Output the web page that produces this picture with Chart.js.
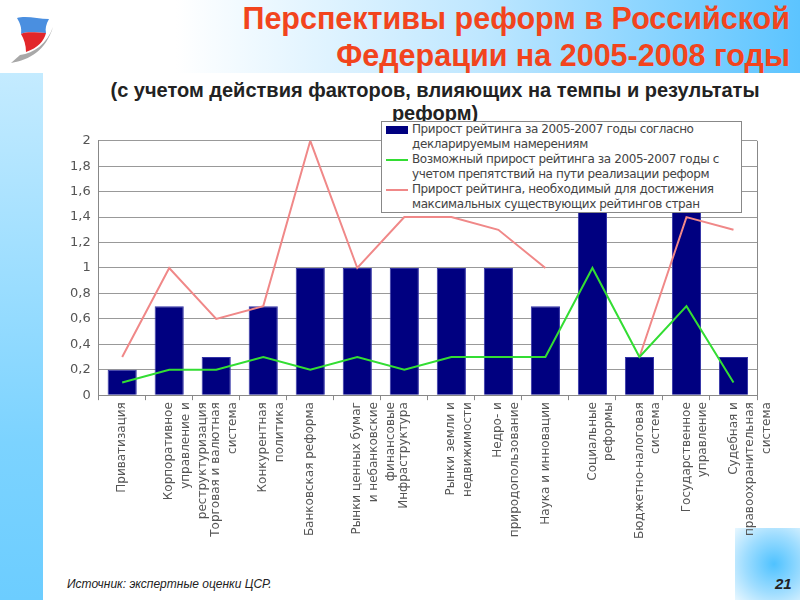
<!DOCTYPE html>
<html>
<head>
<meta charset="utf-8">
<script src="https://cdn.jsdelivr.net/npm/chart.js@4.4.1/dist/chart.umd.min.js"></script>
<style>
  html, body { margin: 0; padding: 0; }
  body { width: 800px; height: 600px; position: relative; overflow: hidden; background: #fff; font-family: 'Liberation Sans', Arial, sans-serif; }
  #topband { position: absolute; left: 0; top: 0; width: 800px; height: 73px; background: linear-gradient(to right, #fff 22%, #bfe7ff 60%, #5cc4ff 100%); }
  #leftband { position: absolute; left: 0; top: 73px; width: 43px; height: 527px; background: linear-gradient(to bottom, #c4ebff, #7cd3ff 70%, #6ccdff); }
  #glow { position: absolute; left: 735px; top: 528px; width: 65px; height: 72px; background: radial-gradient(circle at 60% 50%, #4fc2ff 0%, #9fddff 55%, #e8f7ff 100%); }
  #logo { position: absolute; left: 0; top: 0; }
  .title { position: absolute; right: 10px; top: 0; text-align: right; color: #f2441d; font-weight: bold; font-size: 30.5px; line-height: 37px; }
  .subtitle { position: absolute; left: 80px; width: 710px; top: 79px; text-align: center; color: #222; font-weight: bold; font-size: 20px; line-height: 23px; }
  #wrap { position: absolute; left: 50px; top: 125px; width: 736px; height: 416px; }
  #legend { position: absolute; left: 381px; top: 121px; width: 359px; height: 90px; background: #fff; border: 1px solid #888; font-family: 'DejaVu Sans', sans-serif; font-size: 12px; color: #444; line-height: 15px; letter-spacing: -0.4px; }
  .item { position: relative; padding-left: 30px; }
  .sw { position: absolute; left: 4px; top: 5px; width: 22px; }
  .foot { position: absolute; left: 67px; top: 577px; font-style: italic; font-size: 12px; color: #222; }
  .page { position: absolute; left: 775px; top: 575px; font-style: italic; font-weight: bold; font-size: 15px; color: #222; }
</style>
</head>
<body>
<div id="topband"></div>
<div id="leftband"></div>
<div id="glow"></div>
<svg id="logo" width="60" height="75" viewBox="0 0 60 75">
  <path d="M11 63 C30 60 46 50 53 27 C47 44 34 53 20 55 Z" fill="#a8a8a8"/>
  <path d="M17 18 C26 15 38 19 49 19 C46 24 45 29 46 33 C37 33 28 31 21 34 C22 28 20 23 17 18 Z" fill="#4a8fe0"/>
  <path d="M21 34 C28 31 37 33 46 33 C44 41 38 48 26 52 C26 45 24 39 21 34 Z" fill="#e2262a"/>
</svg>
<div class="title">Перспективы реформ в Российской<br>Федерации на 2005-2008 годы</div>
<div class="subtitle">(с учетом действия факторов, влияющих на темпы и результаты<br>реформ)</div>
<div id="wrap"><canvas id="myChart"></canvas></div>
<div id="legend">
  <div class="item"><div class="sw" style="height:8px;top:4px;background:#000080"></div>Прирост рейтинга за 2005-2007 годы согласно<br>декларируемым намерениям</div>
  <div class="item"><div class="sw" style="height:2px;top:7px;background:#33dd33"></div>Возможный прирост рейтинга за 2005-2007 годы с<br>учетом препятствий на пути реализации реформ</div>
  <div class="item"><div class="sw" style="height:2px;top:7px;background:#f08888"></div>Прирост рейтинга, необходимый для достижения<br>максимальных  существующих рейтингов стран</div>
</div>
<div class="foot">Источник: экспертные оценки ЦСР.</div>
<div class="page">21</div>
<script>
(() => {
  'use strict'

  const categories = [
    ['Приватизация'],
    ['Корпоративное', 'управление и', 'реструктуризация'],
    ['Торговая и валютная', 'система'],
    ['Конкурентная', 'политика'],
    ['Банковская реформа'],
    ['Рынки ценных бумаг', 'и небанковские', 'финансовые'],
    ['Инфраструктура'],
    ['Рынки земли и', 'недвижимости'],
    ['Недро- и', 'природопользование'],
    ['Наука и инновации'],
    ['Социальные', 'реформы'],
    ['Бюджетно-налоговая', 'система'],
    ['Государственное', 'управление'],
    ['Судебная и', 'правоохранительная', 'система']
  ]

  const declared = [0.2, 0.7, 0.3, 0.7, 1, 1, 1, 1, 1, 0.7, 1.5, 0.3, 1.5, 0.3]
  const possible = [0.1, 0.2, 0.2, 0.3, 0.2, 0.3, 0.2, 0.3, 0.3, 0.3, 1, 0.3, 0.7, 0.1]
  const needed = [0.3, 1, 0.6, 0.7, 2, 1, 1.4, 1.4, 1.3, 1, null, 0.3, 1.4, 1.3]

  const yTickLabels = ['0', '0,2', '0,4', '0,6', '0,8', '1', '1,2', '1,4', '1,6', '1,8', '2']

  // frame round the plot area
  const frame = {
    id: 'frame',
    beforeDatasetsDraw(chart) {
      const a = chart.chartArea
      const c = chart.ctx
      c.save()
      c.strokeStyle = '#888'
      c.lineWidth = 1
      c.beginPath()
      c.moveTo(Math.round(a.right) + 0.5, a.top)
      c.lineTo(Math.round(a.right) + 0.5, a.bottom)
      c.stroke()
      c.restore()
    }
  }

  const ctx = document.getElementById('myChart')

  new Chart(ctx, {
    type: 'bar',
    data: {
      labels: categories,
      datasets: [{
        type: 'line',
        data: possible,
        borderColor: '#33dd33',
        borderWidth: 2,
        pointRadius: 0,
        tension: 0,
        order: 1
      }, {
        type: 'line',
        data: needed,
        borderColor: '#f08888',
        borderWidth: 2,
        pointRadius: 0,
        tension: 0,
        spanGaps: false,
        order: 2
      }, {
        data: declared,
        backgroundColor: '#000080',
        borderColor: '#3333a6',
        borderWidth: 1,
        barPercentage: 0.62,
        categoryPercentage: 1,
        order: 3
      }]
    },
    options: {
      responsive: true,
      maintainAspectRatio: false,
      animation: false,
      layout: { padding: { left: 12, right: 3, top: 6, bottom: 0 } },
      plugins: {
        legend: { display: false },
        tooltip: { enabled: false }
      },
      scales: {
        x: {
          grid: { drawOnChartArea: false, drawTicks: true, tickLength: 5, color: '#888', offset: true },
          border: { color: '#888' },
          ticks: {
            minRotation: 90,
            maxRotation: 90,
            autoSkip: false,
            color: '#555',
            font: { family: 'DejaVu Sans', size: 12, lineHeight: 1.4 },
            padding: 2
          }
        },
        y: {
          min: 0,
          max: 2,
          ticks: {
            stepSize: 0.2,
            color: '#555',
            font: { family: 'DejaVu Sans', size: 13 },
            padding: 8,
            callback: (v, i) => yTickLabels[i]
          },
          grid: { color: '#999', drawTicks: false },
          border: { color: '#888' }
        }
      }
    },
    plugins: [frame]
  })
})()
</script>
</body>
</html>
